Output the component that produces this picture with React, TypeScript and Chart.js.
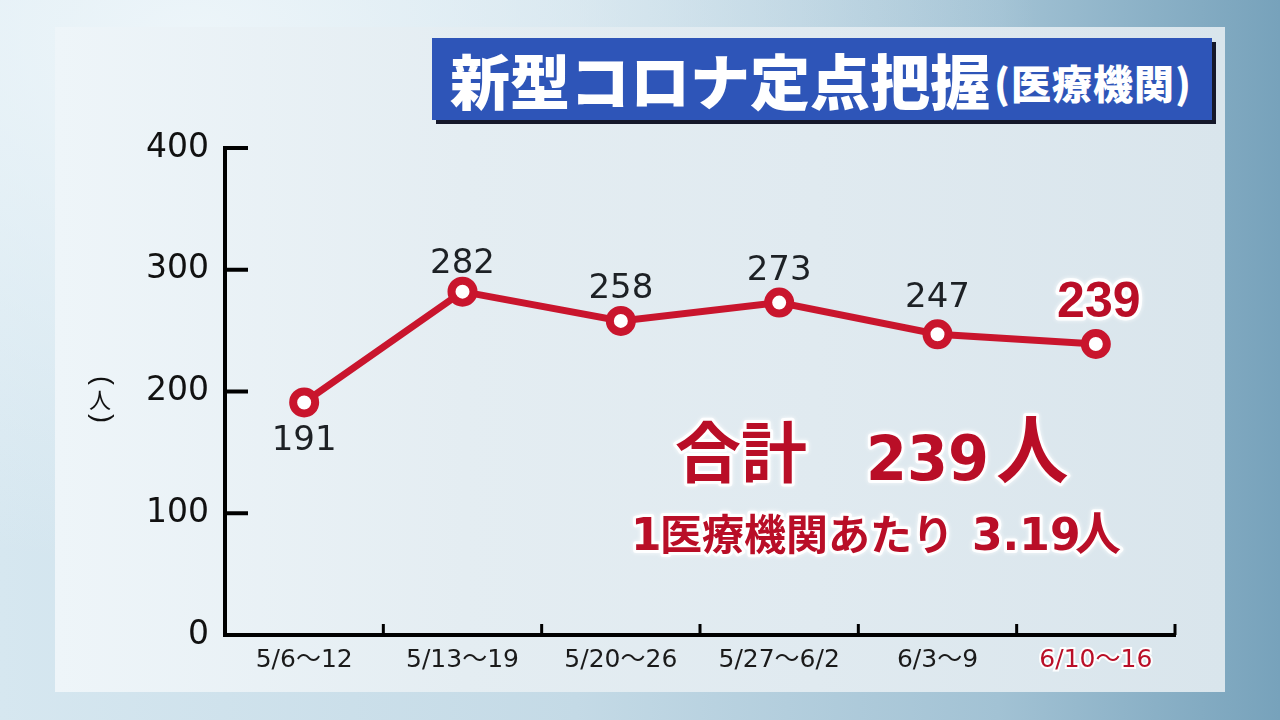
import React, { useEffect, useRef } from "react";
import { Chart, registerables } from "chart.js";

Chart.register(...registerables);

// ---- data ----
const categories = ["5/6〜12", "5/13〜19", "5/20〜26", "5/27〜6/2", "6/3〜9", "6/10〜16"];
const patients = [191, 282, 258, 273, 247, 239];
const yTickValues = [0, 100, 200, 300, 400];
const highlightIndex = 5;

const titleMain = "新型コロナ定点把握";
const titleSub = "(医療機関)";
const axisUnit = "人";
const totalLabel = "合計";
const totalValue = "239";
const perPrefix = "1";
const perLabel = "医療機関あたり";
const perValue = "3.19";

// ---- styles ----
const RED = "#c9152d";
const TEXT_RED = "#b90e27";
const DARK = "#1d2125";
const NUM = "'DejaVu Sans', 'Noto Sans CJK JP', sans-serif";
const CJK = "'Noto Sans CJK JP', sans-serif";
// vertical offsets of value labels relative to point centre (label centre)
const labelOffsets = [35, -31, -35, -35, -40, -45];

const inwardTicks = {
  id: "inwardTicks",
  beforeDatasetsDraw(chart: any) {
    const { ctx, chartArea, scales } = chart;
    ctx.save();
    ctx.strokeStyle = "#000";
    ctx.lineCap = "butt";
    ctx.lineWidth = 4;
    yTickValues.forEach((v) => {
      if (v === 0) return;
      const py = scales.y.getPixelForValue(v);
      ctx.beginPath();
      ctx.moveTo(chartArea.left, py);
      ctx.lineTo(chartArea.left + 23, py);
      ctx.stroke();
    });
    ctx.lineWidth = 3;
    for (let i = 0; i < categories.length; i++) {
      const px = scales.x.getPixelForValue(i + 0.5);
      ctx.beginPath();
      ctx.moveTo(px, chartArea.bottom);
      ctx.lineTo(px, chartArea.bottom - 11);
      ctx.stroke();
    }
    // vertical axis unit "(人)"
    ctx.fillStyle = "#111";
    ctx.textAlign = "center";
    ctx.textBaseline = "middle";
    const ux = 100;
    const uy = scales.y.getPixelForValue(200) + 8;
    ctx.font = `27px 'Liberation Sans', sans-serif`;
    ctx.save();
    ctx.translate(ux + 1, uy - 19);
    ctx.rotate(Math.PI / 2);
    ctx.fillText("(", 0, 0);
    ctx.restore();
    ctx.save();
    ctx.translate(ux + 1, uy + 19);
    ctx.rotate(Math.PI / 2);
    ctx.fillText(")", 0, 0);
    ctx.restore();
    ctx.font = `22px ${CJK}`;
    ctx.fillText(axisUnit, ux, uy);
    ctx.restore();
  },
};

function haloText(ctx: any, text: string, x: number, y: number, font: string, color: string, scaleX = 1, halo = 6) {
  ctx.save();
  ctx.translate(x, y);
  ctx.scale(scaleX, 1);
  ctx.font = font;
  ctx.textAlign = "left";
  ctx.textBaseline = "alphabetic";
  ctx.lineJoin = "round";
  ctx.strokeStyle = "rgba(255,255,255,0.9)";
  ctx.lineWidth = halo;
  ctx.shadowColor = "rgba(255,255,255,0.9)";
  ctx.shadowBlur = 4;
  ctx.strokeText(text, 0, 0);
  ctx.shadowBlur = 0;
  ctx.fillStyle = color;
  ctx.fillText(text, 0, 0);
  ctx.restore();
}

const valueLabels = {
  id: "valueLabels",
  afterDatasetsDraw(chart: any) {
    const { ctx } = chart;
    const meta = chart.getDatasetMeta(0);
    ctx.save();
    meta.data.forEach((pt: any, i: number) => {
      const txt = String(patients[i]);
      if (i === highlightIndex) {
        ctx.font = `bold 50px 'Liberation Sans', Arial, sans-serif`;
        const w = ctx.measureText(txt).width;
        haloText(ctx, txt, pt.x + 3 - w / 2, pt.y + labelOffsets[i] + 18, ctx.font, TEXT_RED, 1, 7);
      } else {
        ctx.font = `34px ${NUM}`;
        ctx.textAlign = "center";
        ctx.textBaseline = "alphabetic";
        ctx.fillStyle = DARK;
        ctx.fillText(txt, pt.x, pt.y + labelOffsets[i] + 12.4);
      }
    });
    ctx.restore();

    // summary texts
    haloText(ctx, totalLabel, 675, 477, `bold 66px ${CJK}`, TEXT_RED);
    haloText(ctx, totalValue, 866, 480, `bold 62px ${NUM}`, TEXT_RED, 0.95);
    haloText(ctx, axisUnit, 996, 477, `bold 74px ${CJK}`, TEXT_RED, 0.98);
    haloText(ctx, perPrefix, 631, 550, `bold 44px ${NUM}`, TEXT_RED);
    haloText(ctx, perLabel, 660, 550, `bold 42px ${CJK}`, TEXT_RED);
    haloText(ctx, perValue, 972, 550, `bold 44px ${NUM}`, TEXT_RED);
    haloText(ctx, axisUnit, 1075, 550, `bold 46px ${CJK}`, TEXT_RED);
  },
};

export default function App() {
  const ref = useRef<HTMLCanvasElement>(null);
  useEffect(() => {
    const chart = new Chart(ref.current as HTMLCanvasElement, {
      type: "line",
      data: {
        labels: categories,
        datasets: [
          {
            data: patients,
            borderColor: RED,
            borderWidth: 7,
            pointRadius: 11,
            pointHoverRadius: 11,
            pointBorderWidth: 8,
            pointBackgroundColor: "#ffffff",
            pointBorderColor: RED,
            tension: 0,
            clip: false as any,
          },
        ],
      },
      options: {
        responsive: false,
        animation: false,
        devicePixelRatio: 1,
        layout: { padding: { top: 148, right: 105, bottom: 0, left: 0 } },
        plugins: { legend: { display: false }, tooltip: { enabled: false }, title: { display: false } },
        scales: {
          x: {
            type: "category",
            offset: true,
            grid: { display: false, drawTicks: false },
            border: { display: true, color: "#000", width: 4 },
            ticks: {
              padding: 10,
              autoSkip: false,
              maxRotation: 0,
              font: { size: 25, family: NUM },
              color: (c: any) => (c.index === highlightIndex ? TEXT_RED : "#1a1a1a"),
              textStrokeColor: (c: any) => (c.index === highlightIndex ? "rgba(255,255,255,0.9)" : "rgba(0,0,0,0)"),
              textStrokeWidth: (c: any) => (c.index === highlightIndex ? 4 : 0),
            } as any,
            afterFit: (s: any) => {
              s.height = 85;
            },
          },
          y: {
            min: 0,
            max: 400,
            grid: { display: false, drawTicks: false },
            border: { display: true, color: "#000", width: 4 },
            ticks: {
              stepSize: 100,
              padding: 16,
              font: { size: 33, family: NUM },
              color: "#111",
            },
            afterFit: (s: any) => {
              s.width = 225;
            },
          },
        },
      },
      plugins: [inwardTicks, valueLabels],
    });
    return () => chart.destroy();
  }, []);

  return (
    <div
      style={{
        position: "absolute",
        left: 0,
        top: 0,
        width: 1280,
        height: 720,
        overflow: "hidden",
        background:
          "radial-gradient(ellipse at 15% 5%, rgba(238,246,250,0.95) 0%, rgba(238,246,250,0) 55%), linear-gradient(90deg, #d6e7f0 0%, #c4dae6 45%, #a2c2d4 78%, #77a2bb 100%)",
      }}
    >
      <div
        style={{
          position: "absolute",
          left: 55,
          top: 27,
          width: 1170,
          height: 665,
          background: "linear-gradient(90deg, #eef5f9 0%, #e4edf2 35%, #e0eaf0 65%, #d9e5ec 100%)",
        }}
      />
      <div
        style={{
          position: "absolute",
          left: 432,
          top: 38,
          width: 780,
          height: 82,
          background: "#2e55b8",
          boxShadow: "4px 4px 0 #15182a",
          boxSizing: "border-box",
          paddingLeft: 18,
          display: "flex",
          alignItems: "center",
          color: "#fff",
          fontFamily: CJK,
          fontWeight: 900,
          whiteSpace: "nowrap",
          lineHeight: 1,
        }}
      >
        <span style={{ fontSize: 60 }}>{titleMain}</span>
        <span style={{ fontSize: 40, marginLeft: 4, marginTop: 6, letterSpacing: 1 }}>{titleSub}</span>
      </div>
      <canvas
        ref={ref}
        width={1280}
        height={720}
        style={{ position: "absolute", left: 0, top: 0, width: 1280, height: 720 }}
      />
    </div>
  );
}
